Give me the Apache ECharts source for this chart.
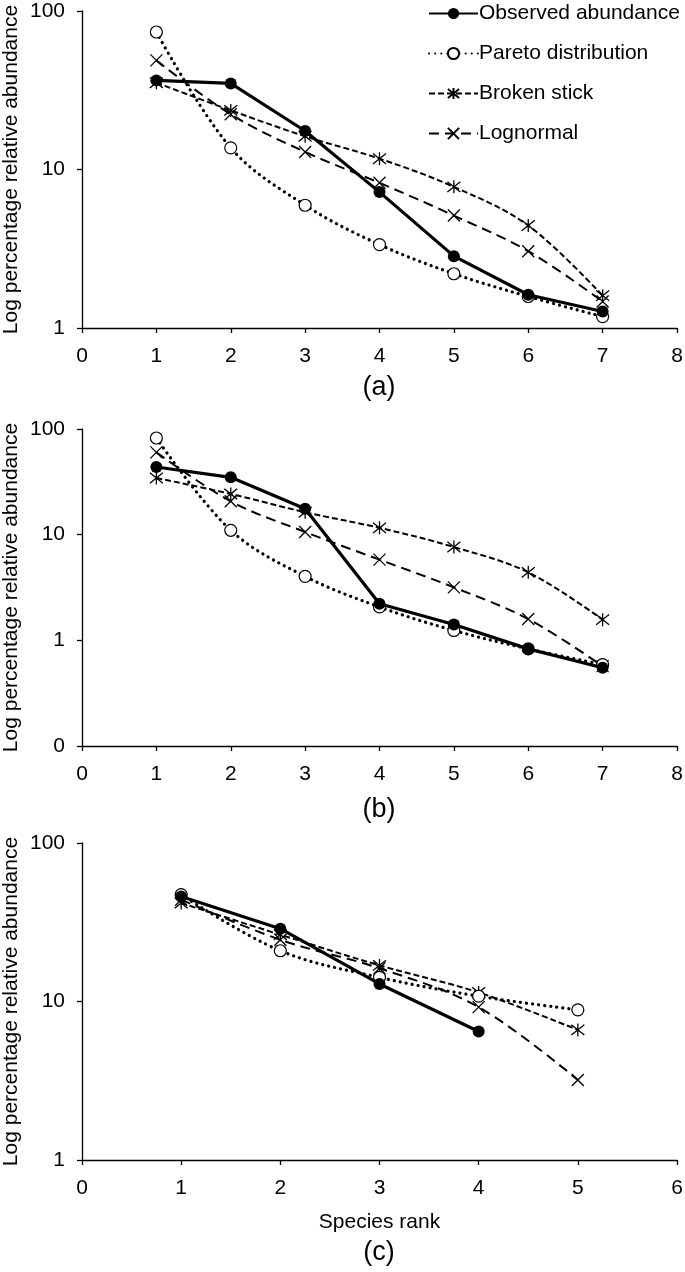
<!DOCTYPE html>
<html>
<head>
<meta charset="utf-8">
<script src="https://cdn.jsdelivr.net/npm/echarts@6/dist/echarts.min.js"></script>
<style>
html,body{margin:0;padding:0;background:#fff;}
#chart{width:685px;height:1272px;}
</style>
</head>
<body>
<div id="chart"></div>
<script>
// ---- data ----
const seriesNames = ['Observed abundance', 'Pareto distribution', 'Broken stick', 'Lognormal'];
const panelLabels = ['(a)', '(b)', '(c)'];
const xAxisTitle = 'Species rank';
const yAxisTitle = 'Log percentage relative abundance';

const ranksA = [1, 2, 3, 4, 5, 6, 7];
const observedA = [36.5, 34.9, 17.5, 7.2, 2.84, 1.62, 1.27];
const paretoA   = [73.7, 13.7, 5.95, 3.36, 2.2, 1.58, 1.18];
const brokenA   = [35.3, 23.6, 16.2, 11.7, 7.77, 4.43, 1.6];
const lognormA  = [48.8, 22.3, 12.9, 8.24, 5.12, 3.05, 1.47];

const ranksB = [1, 2, 3, 4, 5, 6, 7];
const observedB = [43.7, 34.9, 17.6, 2.22, 1.41, 0.83, 0.55];
const paretoB   = [82.2, 11.0, 4.03, 2.07, 1.24, 0.83, 0.59];
const brokenB   = [34.4, 24.3, 16.3, 11.6, 7.64, 4.4, 1.57];
const lognormB  = [60.1, 20.7, 10.6, 5.8, 3.17, 1.59, 0.57];

const ranksC = [1, 2, 3, 4, 5];
const observedC = [46.0, 28.8, 12.9, 6.47];
const paretoC   = [47.2, 20.9, 14.2, 10.8, 8.86];
const brokenC   = [41.8, 26.4, 16.9, 11.4, 6.62];
const lognormC  = [43.9, 24.5, 16.2, 9.21, 3.2];

const xMaxes = [8, 8, 6];
const yMins = [1, 0.1, 1];
const yMax = 100;

// ---- build ----
const FONT = '"Liberation Sans", Arial, sans-serif';
const pair = (xs, ys) => ys.map((v, i) => [xs[i], v]);

const panels = [
  {ranks: ranksA, obs: observedA, par: paretoA, brk: brokenA, lgn: lognormA},
  {ranks: ranksB, obs: observedB, par: paretoB, brk: brokenB, lgn: lognormB},
  {ranks: ranksC, obs: observedC, par: paretoC, brk: brokenC, lgn: lognormC}
];
const gridTops = [11, 429, 843];
const gridH = 317;

const asterisk = 'path://M1,1L9,9M9,1L1,9M5,0L5,10';
const cross = 'path://M0,0L10,10M10,0L0,10';

const grids = [], xAxes = [], yAxes = [], series = [], titles = [];
panels.forEach((p, k) => {
  grids.push({left: 82, width: 595, top: gridTops[k], height: gridH,
    containLabel: false, outerBoundsMode: 'none'});
  xAxes.push({
    type: 'value', gridIndex: k, min: 0, max: xMaxes[k], interval: 1,
    splitLine: {show: false},
    axisLine: {show: true, onZero: false, lineStyle: {color: '#000', width: 1.3}},
    axisTick: {show: true, inside: false, length: 5, lineStyle: {color: '#000', width: 1.3}},
    axisLabel: {color: '#000', fontSize: 21, fontFamily: FONT, margin: 18},
    name: k === 2 ? xAxisTitle : '', nameLocation: 'middle', nameGap: 52,
    nameMoveOverlap: false,
    nameTextStyle: {color: '#000', fontSize: 21, fontFamily: FONT}
  });
  yAxes.push({
    type: 'log', logBase: 10, gridIndex: k, min: yMins[k], max: yMax,
    splitLine: {show: false},
    minorTick: {show: false},
    axisLine: {show: true, onZero: false, lineStyle: {color: '#000', width: 1.3}},
    axisTick: {show: true, inside: false, length: 5, lineStyle: {color: '#000', width: 1.3}},
    axisLabel: {color: '#000', fontSize: 21, fontFamily: FONT, margin: 17,
      formatter: v => String(Math.round(v))},
    name: yAxisTitle, nameLocation: 'middle', nameGap: 60, nameRotate: 90,
    nameMoveOverlap: false,
    nameTextStyle: {color: '#000', fontSize: 21, fontFamily: FONT}
  });
  series.push({
    name: seriesNames[0], type: 'line', xAxisIndex: k, yAxisIndex: k, z: 5,
    data: pair(p.ranks, p.obs), symbol: 'circle', symbolSize: 12,
    lineStyle: {color: '#000', width: 3.2},
    itemStyle: {color: '#000', borderColor: '#000', borderWidth: 0}
  });
  series.push({
    name: seriesNames[1], type: 'line', xAxisIndex: k, yAxisIndex: k, z: 4, smooth: 0.35,
    data: pair(p.ranks, p.par), symbol: 'circle', symbolSize: 12,
    lineStyle: {color: '#000', width: 3.2, type: [0.1, 6], cap: 'round'},
    itemStyle: {color: '#fff', borderColor: '#000', borderWidth: 1.2}
  });
  series.push({
    name: seriesNames[2], type: 'line', xAxisIndex: k, yAxisIndex: k, z: 3, smooth: 0.35,
    data: pair(p.ranks, p.brk), symbol: asterisk, symbolSize: 13,
    lineStyle: {color: '#000', width: 2, type: [6, 3]},
    itemStyle: {color: 'rgba(0,0,0,0)', borderColor: '#000', borderWidth: 1.3}
  });
  series.push({
    name: seriesNames[3], type: 'line', xAxisIndex: k, yAxisIndex: k, z: 3, smooth: 0.35,
    data: pair(p.ranks, p.lgn), symbol: cross, symbolSize: 12,
    lineStyle: {color: '#000', width: 2, type: [10, 6]},
    itemStyle: {color: 'rgba(0,0,0,0)', borderColor: '#000', borderWidth: 1.3}
  });
});

const titleTops = [374, 796, 1239];
panelLabels.forEach((t, k) => {
  titles.push({text: t, left: 379, top: titleTops[k], textAlign: 'center', padding: 0,
    textStyle: {color: '#000', fontSize: 27, fontWeight: 'normal', fontFamily: FONT}});
});

const chart = echarts.init(document.getElementById('chart'), null, {renderer: 'canvas'});
chart.setOption({
  backgroundColor: '#fff',
  animation: false,
  title: titles,
  legend: {
    data: seriesNames, orient: 'vertical', left: 428, top: 3, padding: 0,
    itemWidth: 49, itemHeight: 14, itemGap: 19,
    textStyle: {color: '#000', fontSize: 21, fontFamily: FONT, padding: [0, 0, 0, -4]}
  },
  grid: grids,
  xAxis: xAxes,
  yAxis: yAxes,
  series: series
});
</script>
</body>
</html>
